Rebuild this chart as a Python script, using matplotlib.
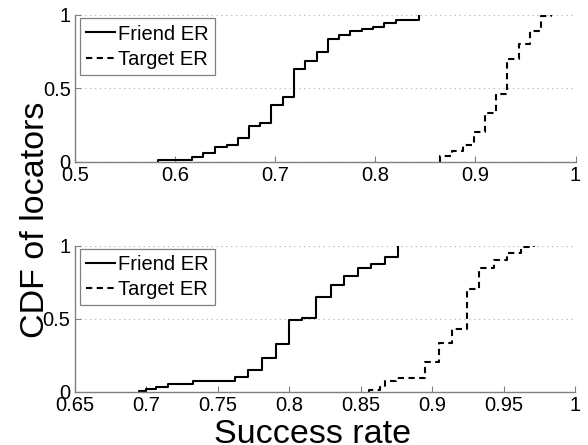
import matplotlib
matplotlib.use("Agg")
import matplotlib.pyplot as plt

plt.rcParams['font.family'] = ['Liberation Sans', 'DejaVu Sans']
plt.rcParams['lines.scale_dashes'] = False

# ---- data ----
friend_top_x = [0.583, 0.617, 0.628, 0.640, 0.652, 0.663, 0.674, 0.685, 0.696, 0.708,
                0.719, 0.730, 0.742, 0.753, 0.764, 0.775, 0.787, 0.798, 0.809, 0.821, 0.844]
friend_top_y = [0.012, 0.034, 0.057, 0.102, 0.114, 0.164, 0.243, 0.262, 0.386, 0.443,
                0.630, 0.687, 0.746, 0.834, 0.864, 0.891, 0.905, 0.920, 0.946, 0.966, 1.0]

target_top_x = [0.865, 0.877, 0.888, 0.899, 0.910, 0.921, 0.932, 0.944, 0.955, 0.966, 0.976]
target_top_y = [0.041, 0.073, 0.114, 0.200, 0.330, 0.459, 0.698, 0.800, 0.891, 0.993, 1.0]

friend_bot_x = [0.695, 0.700, 0.707, 0.715, 0.733, 0.762, 0.771, 0.781, 0.791, 0.800,
                0.809, 0.819, 0.829, 0.838, 0.848, 0.857, 0.867, 0.876]
friend_bot_y = [0.007, 0.020, 0.034, 0.053, 0.075, 0.103, 0.148, 0.229, 0.325, 0.490,
                0.502, 0.646, 0.731, 0.792, 0.845, 0.874, 0.920, 1.0]

target_bot_x = [0.856, 0.8635, 0.867, 0.875, 0.895, 0.905, 0.914, 0.924, 0.933, 0.943,
                0.9525, 0.962, 0.971]
target_bot_y = [0.015, 0.035, 0.075, 0.092, 0.201, 0.331, 0.427, 0.703, 0.845, 0.902,
                0.948, 0.993, 1.0]

top_xticks = [0.5, 0.6, 0.7, 0.8, 0.9, 1.0]
top_xlabels = ['0.5', '0.6', '0.7', '0.8', '0.9', '1']
bot_xticks = [0.65, 0.7, 0.75, 0.8, 0.85, 0.9, 0.95, 1.0]
bot_xlabels = ['0.65', '0.7', '0.75', '0.8', '0.85', '0.9', '0.95', '1']
yticks = [0, 0.5, 1]
ylabels = ['0', '0.5', '1']
series_names = ['Friend ER', 'Target ER']

W, H = 588, 445
fig = plt.figure(figsize=(W / 100, H / 100), dpi=100)

def px_axes(left, right, top, bottom):
    return fig.add_axes([left / W, 1 - bottom / H, (right - left) / W, (bottom - top) / H])

ax1 = px_axes(75, 575.5, 15, 161.7)
ax2 = px_axes(74.7, 575.2, 245.7, 391.7)

gray = '#808080'

def cdf(ax, xs, ys, **kw):
    x = [xs[0]] + list(xs)
    y = [0.0] + list(ys)
    return ax.plot(x, y, drawstyle='steps-post', color='black', lw=1.5, **kw)[0]

def style(ax, xlim, xticks, xlabels):
    ax.set_xlim(*xlim)
    ax.set_ylim(0, 1)
    ax.set_xticks(xticks)
    ax.set_xticklabels(xlabels)
    ax.set_yticks(yticks)
    ax.set_yticklabels(ylabels)
    for s in ['top', 'right']:
        ax.spines[s].set_visible(False)
    for s in ['left', 'bottom']:
        ax.spines[s].set_color(gray)
        ax.spines[s].set_linewidth(1.0)
    ax.tick_params(direction='in', length=4, width=0.8, color=gray,
                   labelsize=14.5, labelcolor='black')
    ax.tick_params(axis='x', pad=3)
    ax.tick_params(axis='y', pad=3)
    ax.yaxis.grid(True, linestyle=(0, (1, 2.5)), color='#bbbbbb', lw=0.8)
    ax.set_axisbelow(True)

for ax, fx, fy, tx, ty, xlim, xt, xl in [
        (ax1, friend_top_x, friend_top_y, target_top_x, target_top_y, (0.5, 1.0), top_xticks, top_xlabels),
        (ax2, friend_bot_x, friend_bot_y, target_bot_x, target_bot_y, (0.65, 1.0), bot_xticks, bot_xlabels)]:
    l1 = cdf(ax, fx, fy, label=series_names[0])
    l2 = cdf(ax, tx, ty, label=series_names[1], linestyle=(0, (4.5, 3.2)))
    style(ax, xlim, xt, xl)
    aw = ax.get_position().width * W
    ah = ax.get_position().height * H
    leg = ax.legend(handles=[l1, l2], loc='upper left',
                    bbox_to_anchor=(5 / aw, 1 - 3.5 / ah), borderaxespad=0,
                    fontsize=14.5, frameon=True, fancybox=False, shadow=False,
                    handlelength=1.45, handletextpad=0.15, borderpad=0.3,
                    labelspacing=0.3, framealpha=1)
    leg.get_frame().set_edgecolor(gray)
    leg.get_frame().set_linewidth(0.9)

fig.text(312.5 / W, 2 / H, 'Success rate', ha='center', va='baseline', fontsize=24.5)
fig.text(35.3 / W, 1 - 220 / H, 'CDF of locators', ha='center', va='center',
         rotation=90, fontsize=24.5)

fig.savefig('out.png', dpi=100)
